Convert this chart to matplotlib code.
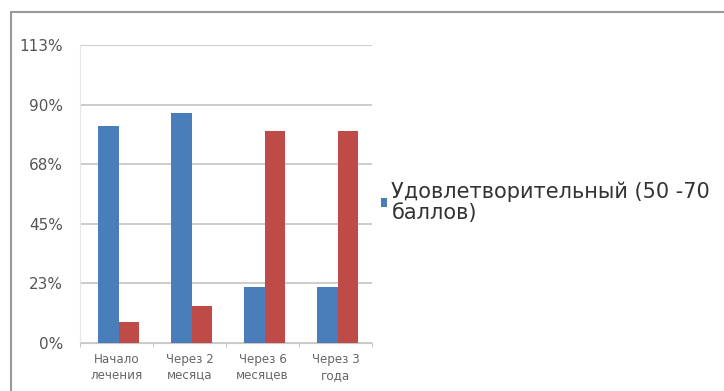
import matplotlib
matplotlib.use("Agg")
import matplotlib.pyplot as plt
import numpy as np
from matplotlib.patches import Rectangle

plt.rcParams["font.family"] = ["DejaVu Sans"]

categories = ["Начало\nлечения", "Через 2\nмесяца", "Через 6\nмесяцев", "Через 3\nгода"]
series1_name = "Удовлетворительный (50 -70\nбаллов)"
series1 = [82, 87, 21, 21]
series2 = [8, 14, 80, 80]
yticks = [0, 22.5, 45, 67.5, 90, 112.5]
ytick_labels = ["0%", "23%", "45%", "68%", "90%", "113%"]

fig = plt.figure(figsize=(7.24, 3.91), dpi=100)
W, H = 724, 391
# outer frame
fig.patches.append(Rectangle((11 / W, -0.1), 1.2, (H - 12) / H + 0.1, transform=fig.transFigure,
                             fill=False, edgecolor="#9a9a9a", linewidth=1.5))

ax = fig.add_axes([80 / W, 1 - 343 / H, (372 - 80) / W, (343 - 45) / H])
x = np.arange(len(categories))
bw = 0.28
ax.bar(x - bw / 2 + 0.03, series1, bw, color="#4a7ebb", label=series1_name, zorder=3)
ax.bar(x + bw / 2 + 0.03, series2, bw, color="#be4b48", zorder=3)

ax.set_xlim(-0.5, len(categories) - 0.5)
ax.set_ylim(0, 112.5)
ax.set_yticks(yticks)
ax.set_yticklabels(ytick_labels, fontsize=11, color="#555555")
ax.set_xticks(x)
ax.set_xticklabels(categories, fontsize=8.6, color="#666666", linespacing=1.3)
ax.tick_params(axis="x", length=0, pad=7)
ax.tick_params(axis="y", length=0, pad=12)
ax.set_xticks(np.arange(len(categories) + 1) - 0.5, minor=True)
ax.tick_params(axis="x", which="minor", length=3, color="#bbbbbb", direction="out")
ax.grid(axis="y", color="#c8c8c8", linewidth=1.3, zorder=0)
ax.set_axisbelow(True)
for s in ["top", "right"]:
    ax.spines[s].set_visible(False)
ax.spines["left"].set_color("#e6e6e6")
ax.spines["bottom"].set_color("#c8c8c8")

fig.legend(handles=[ax.patches[0]], labels=[series1_name], loc="upper left",
           bbox_to_anchor=(381 / W, 1 - 181 / H), frameon=False, fontsize=15,
           handlelength=0.3, handleheight=0.3, handletextpad=0.2, labelcolor="#333333",
           borderpad=0, borderaxespad=0)
for t in fig.legends[0].get_texts():
    t.set_linespacing(1.1)

fig.savefig("out.png", dpi=100)
